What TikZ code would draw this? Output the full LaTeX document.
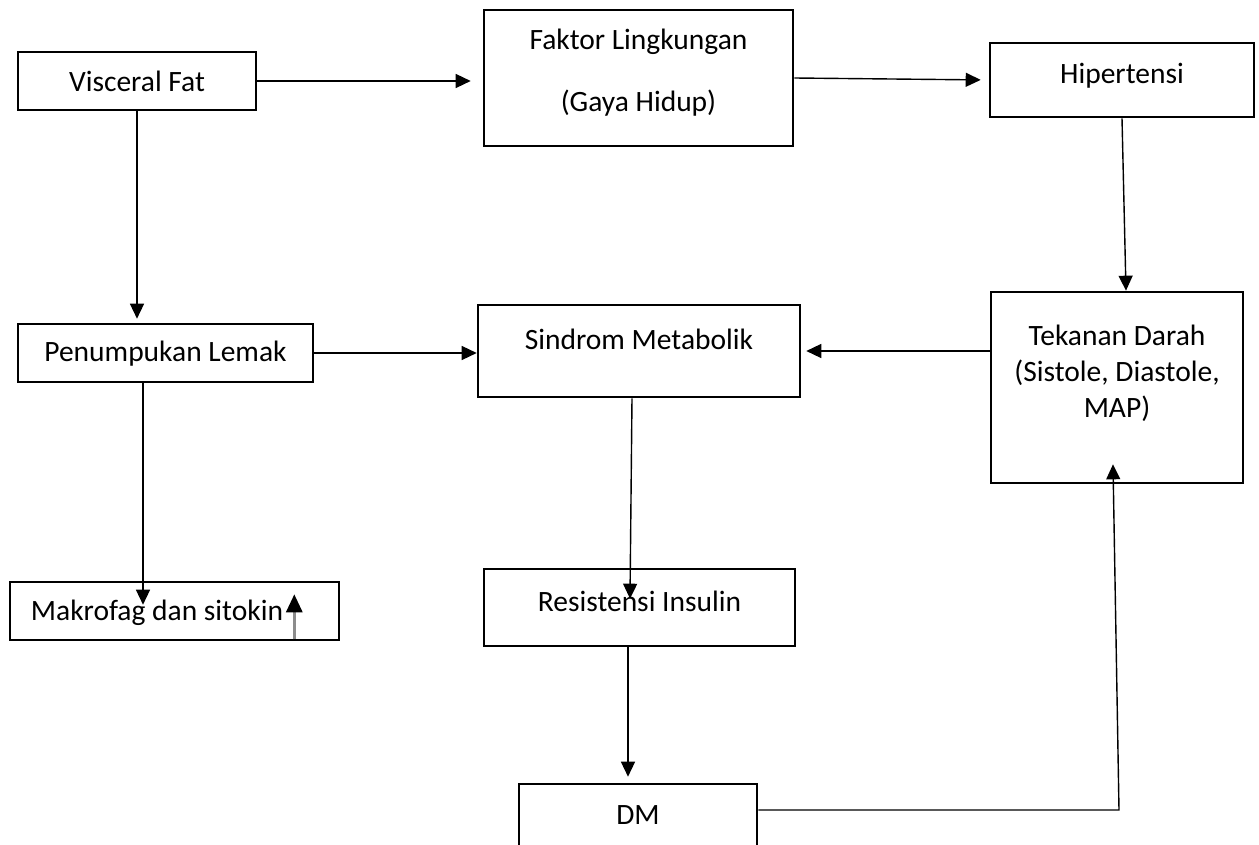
\documentclass[tikz,border=0pt]{standalone}
\usepackage{fontspec}
\setmainfont{Carlito}
\usetikzlibrary{arrows.meta,calc}

\begin{document}
\begin{tikzpicture}[x=0.5pt,y=-0.5pt,font=\fontsize{14.75}{18}\selectfont,
    blok/.style={draw,line width=1.3pt,inner sep=2pt,text height=10pt,text depth=3pt},
    panah/.style={line width=0.7pt,-{Triangle[length=7.5pt,width=7pt]}},
    naik/.style={draw=gray!90,line width=1.5pt,-{Triangle[length=9pt,width=8pt,color=black,fill=black]}}]
 \useasboundingbox (0,0) rectangle (1259,845);
 \clip (0,0) rectangle (1259,845);
 \node[blok,minimum width=119pt,minimum height=29pt,text height=14pt] (vf) at (137,81) {Visceral Fat};
 \node[blok,align=center,minimum width=154.5pt,minimum height=68pt,text height=41pt,text depth=7pt]
    (fl) at (638.5,78) {Faktor Lingkungan\\[13pt](Gaya Hidup)};
 \node[blok,minimum width=132pt,minimum height=37pt,text height=6.5pt] (hp) at (1122,80) {Hipertensi};
 \node[blok,minimum width=147.5pt,minimum height=29pt,text height=12pt] (pl) at (165.5,353) {Penumpukan Lemak};
 \node[blok,minimum width=161pt,minimum height=46pt,text height=2pt] (sm) at (639,351) {Sindrom Metabolik};
 \node[blok,align=center,minimum width=126pt,minimum height=95.5pt,text height=46pt,text depth=16pt]
    (td) at (1117,387.5) {Tekanan Darah\\(Sistole, Diastole,\\MAP)};
 \node[blok,minimum width=164.5pt,minimum height=29pt,text height=12.5pt] (mk) at (174.5,611)
    {Makrofag dan sitokin\hspace*{17.5pt}};
 \node[blok,minimum width=155.5pt,minimum height=38.5pt,text height=6.5pt] (ri) at (639.5,607.5) {Resistensi Insulin};
 \node[blok,minimum width=119pt,minimum height=40pt,text height=3.5pt] (dm) at (638,824) {DM};
 \coordinate (belok) at (1119,810);

 \draw[panah,shorten >=6pt] (vf.east) -- (vf.east -| fl.west);
 \draw[panah,shorten >=4pt] (fl.east) -- (hp.west);
 \draw[panah] (hp.south) -- ($(td.north)+(9,0)$);
 \draw[panah,shorten >=2.5pt] (sm.east -| td.west) -- (sm.east);
 \draw[panah] (pl.east) -- (pl.east -| sm.west);
 \draw[panah,shorten >=2pt] (vf.south) -- (vf.south |- pl.north);
 \draw[panah] ($(pl.south)+(-22.5,0)$) -- ($(pl.south |- mk.north)+(-22.5,24)$);
 \draw[panah] ($(sm.south)+(-7,0)$) -- ($(ri.north)+(-9.5,31)$);
 \draw[panah,shorten >=3pt] ($(ri.south)+(-11.5,0)$) -- ($(ri.south |- dm.north)+(-11.5,0)$);
 \draw[panah] (belok -| dm.east) -- (belok) -- ($(td.south)+(-4,-20)$);
 \draw[naik] ($(mk.south east)+(-46,-2)$) -- ($(mk.south east)+(-46,-47)$);
\end{tikzpicture}
\end{document}
